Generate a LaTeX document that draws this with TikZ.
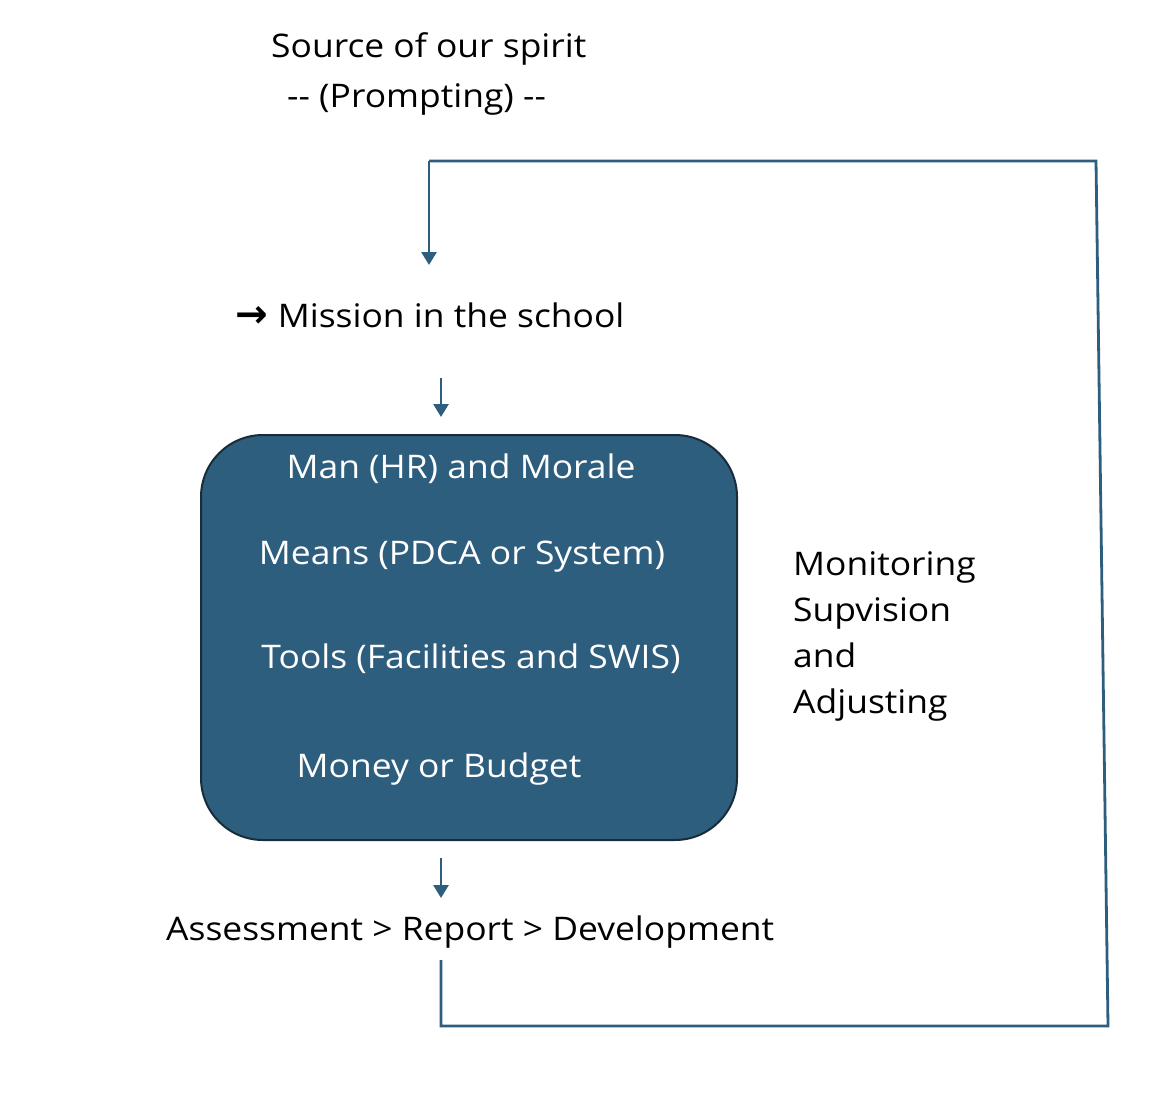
\documentclass[tikz,border=0pt]{standalone}
\usepackage{fontspec}
\setmainfont{Open Sans}[FakeStretch=1.09]
\newfontfamily\symfont{DejaVu Sans}
\usetikzlibrary{arrows.meta}
\definecolor{flowblue}{RGB}{46,94,126}
\definecolor{boxedge}{RGB}{24,44,58}
\begin{document}
\begin{tikzpicture}[x=1pt,y=-1pt,
    lbl/.style={inner sep=0pt,anchor=base west,font=\fontsize{32.5}{38}\selectfont},
    inbox/.style={lbl,anchor=base,text=white},
    flow/.style={draw=flowblue,line width=2.8pt},
    tip/.style={flow,-{Triangle[width=15pt,length=13pt]}}]
    \useasboundingbox (0,0) rectangle (1156,1110);

    % headings
    \node[lbl] (src) at (271,58)  {Source of our spirit};
    \node[lbl] (pro) at (287,108) {-{}- (Prompting) -{}-};
    \node[lbl] (mis) at (235,327) {{\symfont\bfseries\fontsize{39}{40}\selectfont →}\hspace{10pt}Mission in the school};

    % the four M
    \node[draw=boxedge,line width=2pt,fill=flowblue,rounded corners=62pt,
          minimum width=536pt,minimum height=405pt] (mbox) at (469,637.5) {};
    \node[inbox] (man)   at (461,478) {Man (HR) and Morale};
    \node[inbox] (means) at (462,564) {Means (PDCA or System)};
    \node[inbox] (tools) at (471,668) {Tools (Facilities and SWIS)};
    \node[inbox] (money) at (439,777) {Money or Budget};

    \node[lbl] (out) at (166,940) {Assessment > Report > Development};

    % side note
    \node[lbl] (mon1) at (793,575) {Monitoring};
    \node[lbl] (mon2) at (793,621) {Supvision};
    \node[lbl] (mon3) at (793,667) {and};
    \node[lbl] (mon4) at (793,713) {Adjusting};

    % arrows
    \coordinate (a1) at (441,378);
    \coordinate (a2) at (441,417);
    \coordinate (b1) at (441,858);
    \coordinate (b2) at (441,898);
    \draw[tip] (a1) -- (a2);
    \draw[tip] (b1) -- (b2);

    % feedback loop
    \coordinate (f0) at (441,960);
    \coordinate (f1) at (441,1026);
    \coordinate (f2) at (1108,1026);
    \coordinate (f3) at (1096,161);
    \coordinate (f4) at (429,161);
    \coordinate (f5) at (429,265);
    \draw[flow] (f0) -- (f1) -- (f2) -- (f3) -- (f4);
    \draw[tip] (f4) -- (f5);
\end{tikzpicture}
\end{document}
